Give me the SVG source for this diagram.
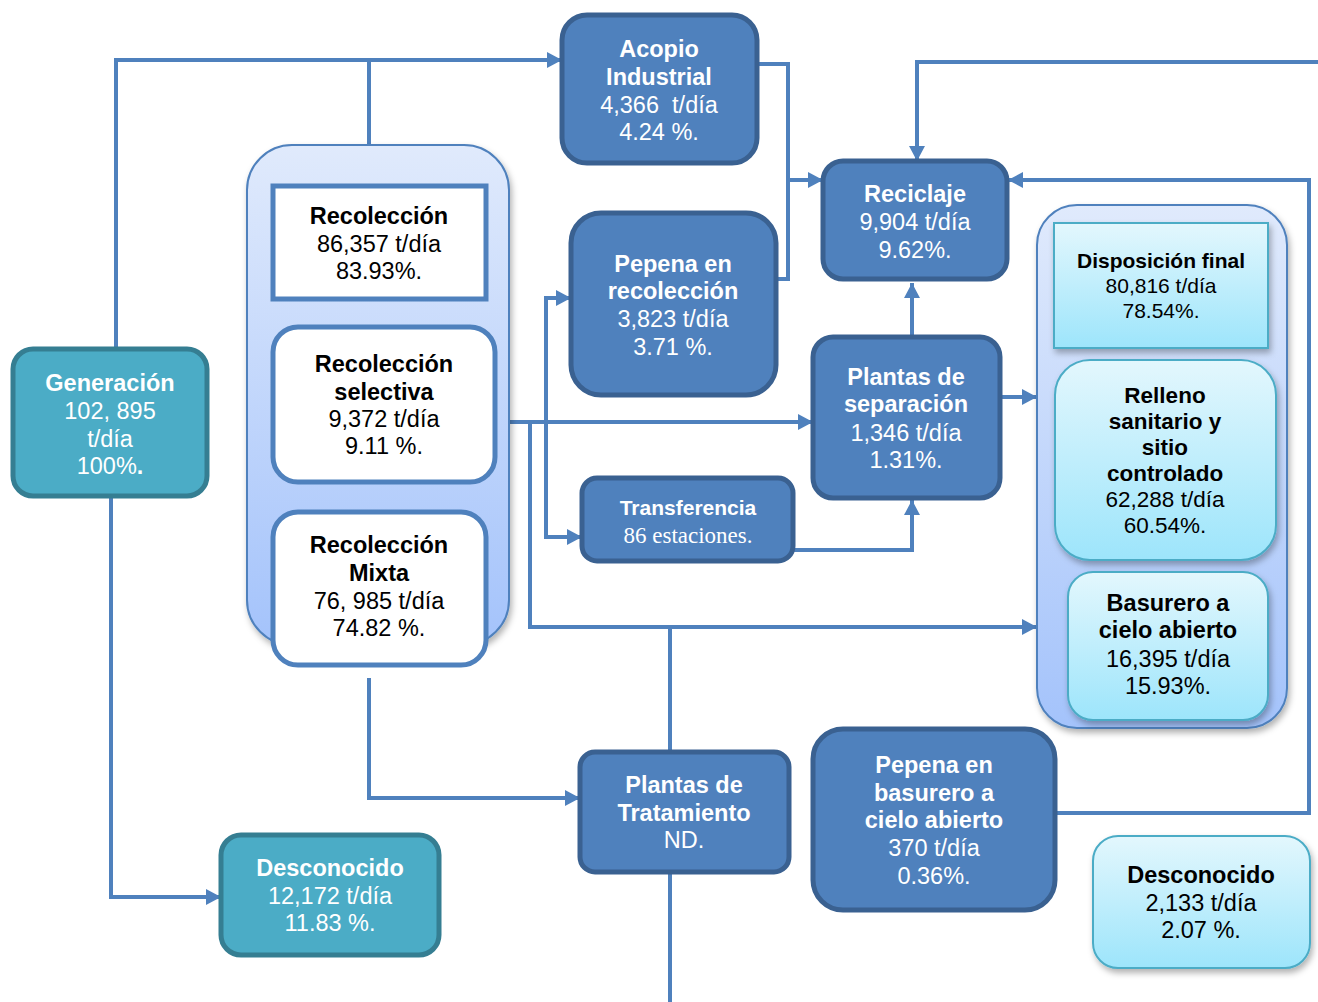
<svg xmlns="http://www.w3.org/2000/svg" width="1318" height="1002" viewBox="0 0 1318 1002">
<defs>
<linearGradient id="gCont" x1="0" y1="0" x2="0" y2="1">
<stop offset="0" stop-color="#e0eafc"/><stop offset="1" stop-color="#a4c3fb"/>
</linearGradient>
<linearGradient id="gCyan" x1="0" y1="0" x2="0" y2="1">
<stop offset="0" stop-color="#e3f7fd"/><stop offset="1" stop-color="#9de5fb"/>
</linearGradient>
<filter id="sh" x="-10%" y="-10%" width="130%" height="130%">
<feDropShadow dx="2" dy="4" stdDeviation="3" flood-color="#000" flood-opacity="0.3"/>
</filter>
<marker id="ah" markerUnits="userSpaceOnUse" markerWidth="16" markerHeight="16" refX="15" refY="8" orient="auto">
<path d="M0,0 L15,8 L0,16 z" fill="#4f81bd"/>
</marker>
<style>
.cn{fill:none;stroke:#4f81bd;stroke-width:4}
.ar{marker-end:url(#ah)}
.dk{fill:#4f81bd;stroke:#3a6191;stroke-width:5}
.tl{fill:#4bacc6;stroke:#357e92;stroke-width:5}
.wb{fill:#fff;stroke:#4f81bd;stroke-width:5}
.ct{fill:url(#gCont);stroke:#4f81bd;stroke-width:2;filter:url(#sh)}
.cy{fill:url(#gCyan);stroke:#4bacc6;stroke-width:2;filter:url(#sh)}
text{font-family:"Liberation Sans",Arial,sans-serif;font-size:23.5px;text-anchor:middle}
.w{fill:#fff}
.k{fill:#000}
.b{font-weight:bold}
.s21{font-size:21px}
.s22{font-size:22.5px}
.serif{font-family:"Liberation Serif","Times New Roman",serif;font-size:23px}
</style>
</defs>

<g id="connectors">
<path class="cn ar" d="M116,349 V60 H562"/>
<path class="cn" d="M369,60 V145"/>
<path class="cn ar" d="M111,497 V897 H221"/>
<path class="cn" d="M757,64 H788 V279 H776"/>
<path class="cn ar" d="M788,180 H823"/>
<path class="cn ar" d="M1318,62 H917 V161"/>
<path class="cn ar" d="M1056,813 H1309 V180 H1008"/>
<path class="cn ar" d="M912,337 V283"/>
<path class="cn ar" d="M1000,397 H1037"/>
<path class="cn ar" d="M495,422 H813"/>
<path class="cn ar" d="M546,422 V298 H571"/>
<path class="cn ar" d="M546,422 V537 H582"/>
<path class="cn ar" d="M530,422 V627 H1037"/>
<path class="cn" d="M670,627 V752"/>
<path class="cn" d="M670,872 V1002"/>
<path class="cn ar" d="M793,550 H912 V500"/>
<path class="cn ar" d="M369,678 V798 H580"/>
<path class="cn" d="M380,299 V327"/>
<path class="cn" d="M383,482 V512"/>
</g>

<g id="container-recoleccion">
<rect class="ct" x="247" y="145" width="262" height="500" rx="45"/>
</g>
<g id="container-disposicion">
<rect class="ct" x="1037" y="205" width="250" height="523" rx="40"/>
</g>

<g id="generacion">
<rect class="tl" x="13" y="349" width="194" height="147" rx="20"/>
<text class="w b" x="110" y="391">Generación</text>
<text class="w" x="110" y="419">102, 895</text>
<text class="w" x="110" y="447">t/día</text>
<text class="w" x="110" y="474">100%<tspan class="b">.</tspan></text>
</g>

<g id="recoleccion">
<rect class="wb" x="273" y="186" width="213" height="113"/>
<text class="k b" x="379" y="224">Recolección</text>
<text class="k" x="379" y="252">86,357 t/día</text>
<text class="k" x="379" y="279">83.93%.</text>
</g>

<g id="recoleccion-selectiva">
<rect class="wb" x="273" y="327" width="222" height="155" rx="25"/>
<text class="k b" x="384" y="372">Recolección</text>
<text class="k b" x="384" y="400">selectiva</text>
<text class="k" x="384" y="427">9,372 t/día</text>
<text class="k" x="384" y="454">9.11 %.</text>
</g>

<g id="recoleccion-mixta">
<rect class="wb" x="273" y="512" width="213" height="153" rx="25"/>
<text class="k b" x="379" y="553">Recolección</text>
<text class="k b" x="379" y="581">Mixta</text>
<text class="k" x="379" y="609">76, 985 t/día</text>
<text class="k" x="379" y="636">74.82 %.</text>
</g>

<g id="acopio">
<rect class="dk" x="562" y="15" width="195" height="148" rx="25"/>
<text class="w b" x="659" y="57">Acopio</text>
<text class="w b" x="659" y="85">Industrial</text>
<text class="w" x="659" y="113" xml:space="preserve">4,366  t/día</text>
<text class="w" x="659" y="140">4.24 %.</text>
</g>

<g id="pepena-recoleccion">
<rect class="dk" x="571" y="213" width="205" height="182" rx="30"/>
<text class="w b" x="673" y="272">Pepena en</text>
<text class="w b" x="673" y="299">recolección</text>
<text class="w" x="673" y="327">3,823 t/día</text>
<text class="w" x="673" y="355">3.71 %.</text>
</g>

<g id="reciclaje">
<rect class="dk" x="823" y="161" width="184" height="118" rx="20"/>
<text class="w b" x="915" y="202">Reciclaje</text>
<text class="w" x="915" y="230">9,904 t/día</text>
<text class="w" x="915" y="258">9.62%.</text>
</g>

<g id="plantas-separacion">
<rect class="dk" x="813" y="337" width="187" height="161" rx="20"/>
<text class="w b" x="906" y="385">Plantas de</text>
<text class="w b" x="906" y="412">separación</text>
<text class="w" x="906" y="441">1,346 t/día</text>
<text class="w" x="906" y="468">1.31%.</text>
</g>

<g id="transferencia">
<rect class="dk" x="582" y="478" width="211" height="83" rx="15"/>
<text class="w b s21" x="688" y="515">Transferencia</text>
<text class="w serif" x="688" y="543">86 estaciones.</text>
</g>

<g id="disposicion-final">
<rect class="cy" x="1054" y="223" width="214" height="125"/>
<text class="k b s21" x="1161" y="268">Disposición final</text>
<text class="k s21" x="1161" y="293">80,816 t/día</text>
<text class="k s21" x="1161" y="318">78.54%.</text>
</g>

<g id="relleno">
<rect class="cy" x="1055" y="360" width="221" height="200" rx="35"/>
<text class="k b s22" x="1165" y="403">Relleno</text>
<text class="k b s22" x="1165" y="429">sanitario y</text>
<text class="k b s22" x="1165" y="455">sitio</text>
<text class="k b s22" x="1165" y="481">controlado</text>
<text class="k s22" x="1165" y="507">62,288 t/día</text>
<text class="k s22" x="1165" y="533">60.54%.</text>
</g>

<g id="basurero">
<rect class="cy" x="1068" y="572" width="200" height="148" rx="25"/>
<text class="k b" x="1168" y="611">Basurero a</text>
<text class="k b" x="1168" y="638">cielo abierto</text>
<text class="k" x="1168" y="667">16,395 t/día</text>
<text class="k" x="1168" y="694">15.93%.</text>
</g>

<g id="plantas-tratamiento">
<rect class="dk" x="580" y="752" width="209" height="120" rx="15"/>
<text class="w b" x="684" y="793">Plantas de</text>
<text class="w b" x="684" y="821">Tratamiento</text>
<text class="w" x="684" y="848">ND.</text>
</g>

<g id="pepena-basurero">
<rect class="dk" x="813" y="729" width="242" height="181" rx="30"/>
<text class="w b" x="934" y="773">Pepena en</text>
<text class="w b" x="934" y="801">basurero a</text>
<text class="w b" x="934" y="828">cielo abierto</text>
<text class="w" x="934" y="856">370 t/día</text>
<text class="w" x="934" y="884">0.36%.</text>
</g>

<g id="desconocido-1">
<rect class="tl" x="221" y="835" width="218" height="120" rx="20"/>
<text class="w b" x="330" y="876">Desconocido</text>
<text class="w" x="330" y="904">12,172 t/día</text>
<text class="w" x="330" y="931">11.83 %.</text>
</g>

<g id="desconocido-2">
<rect class="cy" x="1093" y="836" width="217" height="132" rx="25"/>
<text class="k b" x="1201" y="883">Desconocido</text>
<text class="k" x="1201" y="911">2,133 t/día</text>
<text class="k" x="1201" y="938">2.07 %.</text>
</g>
</svg>
